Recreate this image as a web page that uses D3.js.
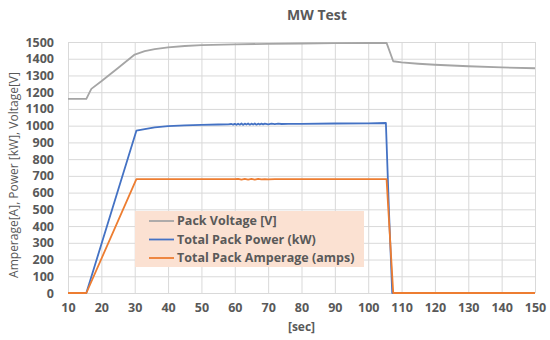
<!DOCTYPE html>
<html>
<head>
<meta charset="utf-8">
<script src="https://cdn.jsdelivr.net/npm/d3@7"></script>
<style>
  body { margin: 0; background: #fff; }
  text { font-family: "Open Sans", "Liberation Sans", sans-serif; fill: #595959; }
</style>
</head>
<body>
<svg id="chart"></svg>
<script>
var width = 550, height = 340;
var margin = { top: 42, right: 15, bottom: 47, left: 68 };

// [sec, value]
var voltage = [[10,1160],[15.5,1160],[16.5,1200],[17,1220],[20,1265],[25,1345],[30,1425],[33,1445],[36,1458],[40,1468],[45,1476],[50,1481],[60,1486],[70,1489],[80,1491],[90,1493],[100,1494],[105.5,1495],[107.5,1385],[110,1378],[115,1370],[120,1364],[130,1355],[140,1348],[150,1343]];
var power = [[10,0],[15.5,0],[30.5,970],[33,980],[36,990],[40,997],[45,1002],[50,1005],[55,1007],[58,1008],
  [59,1010],[59.5,1006],[60,1011],[60.5,1005],[61,1012],[61.5,1006],[62,1013],[62.5,1005],[63,1012],[63.5,1007],
  [64,1013],[64.5,1006],[65,1012],[65.5,1007],[66,1013],[66.5,1006],[67,1012],[67.5,1007],[68,1012],[68.5,1008],
  [69,1012],[70,1008],[71,1012],[72,1009],[73,1012],[74,1010],[76,1011],[80,1011],[90,1013],[100,1014],[105.3,1016],[106.2,500],[107.2,0],[150,0]];
var amperage = [[10,0],[15.5,0],[30.5,680],[60,680],[61,682],[62,678],[63,682],[64,678],[65,682],[66,678],[67,682],[68,679],[69,681],[70,679],[72,681],[74,680],[105.5,680],[107.5,0],[150,0]];

var series = [
  { name: "Pack Voltage [V]", data: voltage, color: "#a5a5a5" },
  { name: "Total Pack Power (kW)", data: power, color: "#4472c4" },
  { name: "Total Pack Amperage (amps)", data: amperage, color: "#ed7d31" }
];
var xTicks = d3.range(10, 151, 10);
var yTicks = d3.range(0, 1501, 100);

var svg = d3.select("#chart").attr("width", width).attr("height", height);
var w = width - margin.left - margin.right;
var h = height - margin.top - margin.bottom;

var x = d3.scaleLinear().domain([10, 150]).range([0, w]);
var y = d3.scaleLinear().domain([0, 1500]).range([h, 0]);

var g = svg.append("g").attr("transform", "translate(" + margin.left + "," + margin.top + ")");

// grid
g.append("g")
  .call(d3.axisLeft(y).tickValues(yTicks).tickSize(-w).tickFormat(""))
  .call(function(s) { s.select(".domain").remove(); })
  .selectAll("line").attr("stroke", "#d9d9d9");

g.append("g")
  .attr("transform", "translate(0," + h + ")")
  .call(d3.axisBottom(x).tickValues(xTicks).tickSize(-h).tickFormat(""))
  .call(function(s) { s.select(".domain").remove(); })
  .selectAll("line").attr("stroke", "#d9d9d9");

// axes labels
var yAxis = g.append("g")
  .call(d3.axisLeft(y).tickValues(yTicks).tickSize(0).tickPadding(14).tickFormat(d3.format("d")));
yAxis.select(".domain").remove();
yAxis.selectAll("text")
  .style("font-size", "12.5px").style("font-weight", "bold").attr("fill", "#595959");

var xAxis = g.append("g")
  .attr("transform", "translate(0," + h + ")")
  .call(d3.axisBottom(x).tickValues(xTicks).tickSize(0).tickPadding(10).tickFormat(d3.format("d")));
xAxis.select(".domain").remove();
xAxis.selectAll("text")
  .style("font-size", "12.5px").style("font-weight", "bold").attr("fill", "#595959");

// lines
var line = d3.line()
  .x(function(d) { return x(d[0]); })
  .y(function(d) { return y(d[1]); });

g.selectAll(".series")
  .data(series)
  .enter()
  .append("path")
  .attr("class", "series")
  .attr("d", function(d) { return line(d.data); })
  .attr("fill", "none")
  .attr("stroke", function(d) { return d.color; })
  .attr("stroke-width", 1.8)
  .attr("stroke-linejoin", "round");

// legend
var legend = svg.append("g").attr("transform", "translate(135,211)");
legend.append("rect")
  .attr("width", 229).attr("height", 56)
  .attr("fill", "#fbe1d2");

var items = legend.selectAll(".item")
  .data(series)
  .enter()
  .append("g")
  .attr("transform", function(d, i) { return "translate(14," + (10 + i * 18.5) + ")"; });
items.append("line")
  .attr("x1", 0).attr("x2", 25)
  .attr("stroke", function(d) { return d.color; })
  .attr("stroke-width", 1.8);
items.append("text")
  .attr("x", 28).attr("dy", "0.35em")
  .style("font-size", "12.5px").style("font-weight", "bold")
  .text(function(d) { return d.name; });

// titles
svg.append("text")
  .attr("x", 317).attr("y", 20)
  .attr("text-anchor", "middle")
  .style("font-size", "14px").style("font-weight", "bold")
  .text("MW Test");

svg.append("text")
  .attr("x", margin.left + w / 2).attr("y", 331)
  .attr("text-anchor", "middle")
  .style("font-size", "12px").style("font-weight", "bold")
  .text("[sec]");

svg.append("text")
  .attr("transform", "translate(18,175) rotate(-90)")
  .attr("text-anchor", "middle")
  .style("font-size", "12px")
  .text("Amperage[A], Power [kW], Voltage[V]");
</script>
</body>
</html>
